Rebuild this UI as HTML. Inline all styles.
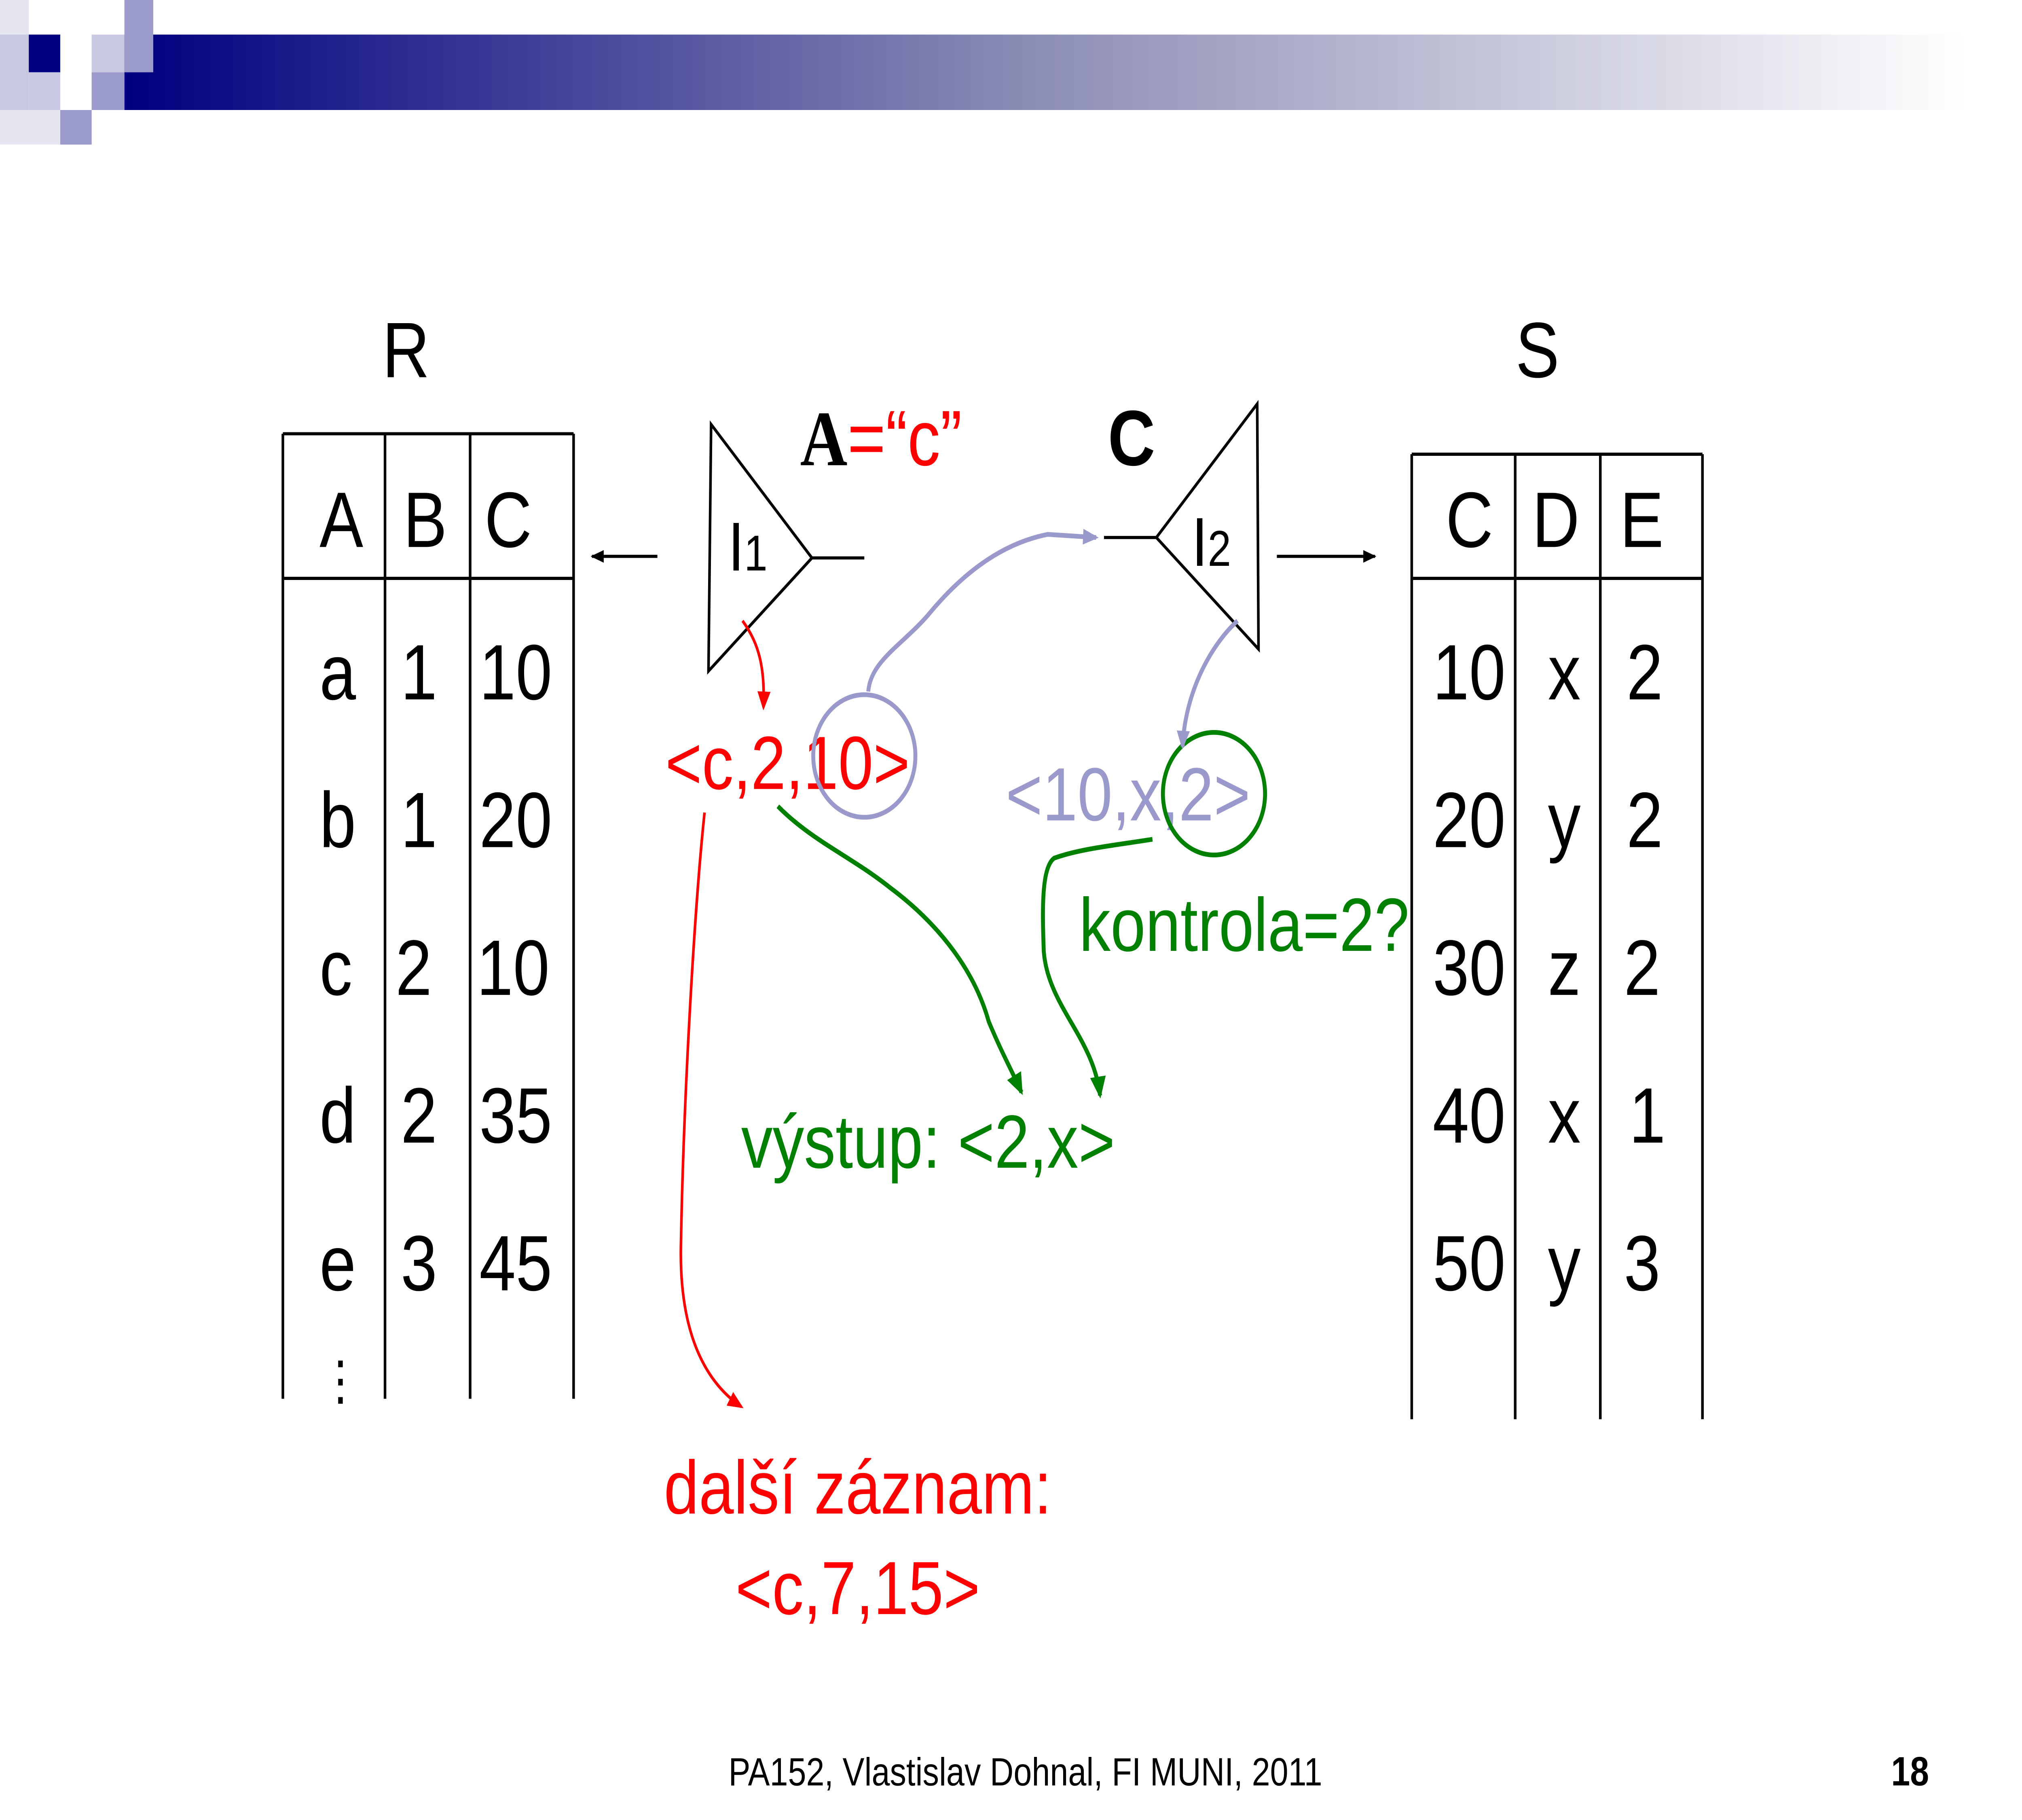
<!DOCTYPE html>
<html><head><meta charset="utf-8"><style>
html,body{margin:0;padding:0;background:#fff;overflow:hidden;width:100%;height:100%;}
svg{display:block;width:100vw;height:100vh;position:absolute;left:0;top:0;}
text{font-family:"Liberation Sans","DejaVu Sans",sans-serif;}
</style></head><body>
<svg viewBox="0 0 1544 1158" preserveAspectRatio="none" xmlns="http://www.w3.org/2000/svg">
<defs>
<linearGradient id="hg" x1="0" x2="1" y1="0" y2="0">
<stop offset="0" stop-color="#000080"/><stop offset="0.5" stop-color="#8e8fb6"/><stop offset="1" stop-color="#ffffff"/>
</linearGradient>
<marker id="ab" markerWidth="10" markerHeight="10" refX="9" refY="5" orient="auto" markerUnits="userSpaceOnUse"><path d="M0,1 L10,5 L0,9 z" fill="#000"/></marker>
<marker id="ar" markerWidth="12" markerHeight="12" refX="10" refY="6" orient="auto" markerUnits="userSpaceOnUse"><path d="M0,1 L12,6 L0,11 z" fill="#f00"/></marker>
<marker id="ap" markerWidth="12" markerHeight="12" refX="10" refY="6" orient="auto" markerUnits="userSpaceOnUse"><path d="M0,1 L12,6 L0,11 z" fill="#9999cc"/></marker>
<marker id="ag" markerWidth="14" markerHeight="14" refX="12" refY="7" orient="auto" markerUnits="userSpaceOnUse"><path d="M0,1 L14,7 L0,13 z" fill="#008000"/></marker>
</defs>
<g>
<rect x="95" y="22" width="1405" height="48" fill="url(#hg)"/>
<rect x="0" y="0" width="22" height="22" fill="#e6e6f2"/>
<rect x="0" y="22" width="22" height="48" fill="#c8c8e0"/>
<rect x="22" y="22" width="24" height="24" fill="#000080"/>
<rect x="70" y="22" width="25" height="24" fill="#c8c8e0"/>
<rect x="95" y="0" width="22" height="46" fill="#9b9bcc"/>
<rect x="70" y="46" width="25" height="24" fill="#9b9bcc"/>
<rect x="22" y="46" width="24" height="24" fill="#c8c8e0"/>
<rect x="46" y="70" width="24" height="22" fill="#9b9bcc"/>
<rect x="0" y="70" width="46" height="22" fill="#e6e6f2"/>
</g>
<g stroke="#000" stroke-width="2">
<line x1="216" y1="276" x2="438" y2="276"/><line x1="216" y1="368" x2="438" y2="368"/>
<line x1="216" y1="276" x2="216" y2="890"/><line x1="294" y1="276" x2="294" y2="890"/>
<line x1="359" y1="276" x2="359" y2="890"/><line x1="438" y1="276" x2="438" y2="890"/>
</g>
<text x="310" y="240" font-size="50" text-anchor="middle">R</text>
<g font-size="50">
<text x="244" y="348">A</text><text x="308" y="348">B</text><text x="370" y="348">C</text>
<text x="244" y="445">a</text><text x="306" y="445">1</text><text x="366" y="445">10</text>
<text x="244" y="539">b</text><text x="306" y="539">1</text><text x="366" y="539">20</text>
<text x="244" y="633">c</text><text x="302" y="633">2</text><text x="364" y="633">10</text>
<text x="244" y="727">d</text><text x="306" y="727">2</text><text x="366" y="727">35</text>
<text x="244" y="821">e</text><text x="306" y="821">3</text><text x="366" y="821">45</text>
<text x="243" y="890" font-size="34">⋮</text>
</g>
<g stroke="#000" stroke-width="2">
<line x1="1078" y1="289" x2="1300" y2="289"/><line x1="1078" y1="368" x2="1300" y2="368"/>
<line x1="1078" y1="289" x2="1078" y2="903"/><line x1="1157" y1="289" x2="1157" y2="903"/>
<line x1="1222" y1="289" x2="1222" y2="903"/><line x1="1300" y1="289" x2="1300" y2="903"/>
</g>
<text x="1174" y="240" font-size="50" text-anchor="middle">S</text>
<g font-size="50">
<text x="1104" y="348">C</text><text x="1170" y="348">D</text><text x="1237" y="348">E</text>
<text x="1094" y="445">10</text><text x="1182" y="445">x</text><text x="1242" y="445">2</text>
<text x="1094" y="539">20</text><text x="1182" y="539">y</text><text x="1242" y="539">2</text>
<text x="1094" y="633">30</text><text x="1182" y="633">z</text><text x="1240" y="633">2</text>
<text x="1094" y="727">40</text><text x="1182" y="727">x</text><text x="1244" y="727">1</text>
<text x="1094" y="821">50</text><text x="1182" y="821">y</text><text x="1240" y="821">3</text>
</g>
<g fill="none" stroke="#000" stroke-width="2">
<polygon points="543,270 620,355 541,427"/><line x1="620" y1="355" x2="660" y2="355"/>
<line x1="502" y1="354" x2="452" y2="354" marker-end="url(#ab)"/>
</g>
<text x="556" y="363" font-size="44" font-family="Liberation Serif,serif">I<tspan font-size="32">1</tspan></text>
<g fill="none" stroke="#000" stroke-width="2">
<polygon points="960,257 883,342 961,413"/><line x1="843" y1="342" x2="883" y2="342"/>
<line x1="975" y1="354" x2="1050" y2="354" marker-end="url(#ab)"/>
</g>
<text x="910" y="360" font-size="44" font-family="Liberation Serif,serif">I<tspan font-size="32">2</tspan></text>
<text x="611" y="296" font-size="50"><tspan font-family="Liberation Serif,serif" font-weight="bold">A</tspan><tspan fill="#f00">=“c”</tspan></text>
<text x="846" y="296" font-size="50" font-family="Liberation Serif,serif" font-weight="bold">C</text>
<text x="508" y="502" font-size="48" fill="#f00">&lt;c,2,10&gt;</text>
<circle cx="660" cy="481" r="39" fill="none" stroke="#9999cc" stroke-width="3"/>
<text x="768" y="522" font-size="48" fill="#9999cc">&lt;10,x,2&gt;</text>
<circle cx="927" cy="505" r="39" fill="none" stroke="#008000" stroke-width="3"/>
<text x="824" y="605" font-size="48" fill="#008000">kontrola=2?</text>
<text x="566" y="743" font-size="48" fill="#008000">výstup: &lt;2,x&gt;</text>
<text x="655" y="963" font-size="48" fill="#f00" text-anchor="middle">další záznam:</text>
<text x="655" y="1027" font-size="48" fill="#f00" text-anchor="middle">&lt;c,7,15&gt;</text>
<g fill="none" stroke-width="3">
<path d="M567,395 C580,410 584,425 583,450" stroke="#f00" stroke-width="2" marker-end="url(#ar)"/>
<path d="M538,517 C530,580 522,700 520,790 C518,850 540,880 566,895" stroke="#f00" stroke-width="2" marker-end="url(#ar)"/>
<path d="M663,440 C665,420 690,410 710,390 C740,360 770,345 800,340 L837,342" stroke="#9999cc" marker-end="url(#ap)"/>
<path d="M945,395 C925,410 905,440 903,475" stroke="#9999cc" marker-end="url(#ap)"/>
<path d="M594,513 C620,535 650,545 680,565 C720,590 745,620 755,650 C765,670 772,680 780,695" stroke="#008000" marker-end="url(#ag)"/>
<path d="M880,534 C850,538 825,540 805,546 C795,552 796,580 797,605 C800,640 835,660 840,697" stroke="#008000" marker-end="url(#ag)"/>
</g>
<text x="783" y="1136" font-size="25" text-anchor="middle">PA152, Vlastislav Dohnal, FI MUNI, 2011</text>
<text x="1473" y="1136" font-size="26" font-weight="bold" text-anchor="end">18</text>
</svg>
</body></html>
